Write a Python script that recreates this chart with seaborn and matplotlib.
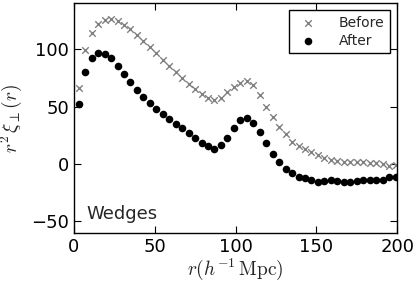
import numpy as np
import pandas as pd
import matplotlib
matplotlib.use("Agg")
import matplotlib.pyplot as plt
import seaborn as sns

# separation bins (h^-1 Mpc)
r = np.arange(3, 200, 4)

before = [65.7, 98.8, 114.2, 121.7, 125.7, 126.3, 124.3, 121.1, 117.1, 112.0,
          106.8, 101.7, 96.2, 90.8, 85.7, 80.0, 74.8, 69.7, 65.1, 60.6,
          57.4, 56.0, 57.7, 62.5, 66.8, 70.5, 72.0, 68.6, 59.7, 50.0,
          40.5, 32.6, 25.7, 19.5, 15.9, 12.8, 10.2, 7.7, 4.8, 3.4,
          2.6, 2.0, 2.0, 1.7, 1.4, 1.1, 0.6, -0.3, -1.4, -0.9]
after = [52.0, 80.0, 92.5, 97.0, 96.0, 92.0, 85.0, 78.0, 71.0, 64.5,
         58.5, 53.0, 48.0, 43.4, 39.0, 35.0, 31.0, 27.0, 22.5, 18.6,
         15.7, 13.4, 16.3, 22.5, 31.4, 38.3, 39.7, 35.7, 27.7, 18.3,
         8.6, 1.4, -4.0, -8.3, -11.1, -12.6, -14.0, -15.7, -14.6, -14.3,
         -14.6, -15.4, -15.4, -14.6, -14.3, -14.0, -14.0, -14.0, -11.7, -11.4]

df = pd.DataFrame({"r": r, "before": before, "after": after})

sns.set_style("ticks", {"xtick.direction": "in", "ytick.direction": "in",
                        "axes.edgecolor": "black"})
plt.rcParams["font.family"] = ["DejaVu Sans"]
plt.rcParams["mathtext.fontset"] = "cm"

fig = plt.figure(figsize=(4.15, 2.84), dpi=100)
ax = fig.add_axes([0.178, 0.180, 0.779, 0.809])

sns.scatterplot(data=df, x="r", y="before", marker="x", color="#808080",
                s=22, linewidth=1.0, label="Before", ax=ax)
sns.scatterplot(data=df, x="r", y="after", marker="o", color="black",
                s=30, linewidth=0, label="After", ax=ax)

ax.set_xlim(0, 200)
ax.set_ylim(-60, 140)
ax.set_xticks([0, 50, 100, 150, 200])
ax.set_yticks([-50, 0, 50, 100])
ax.tick_params(top=True, right=True, labelsize=13, length=5, width=0.8,
               colors="black")
for sp in ax.spines.values():
    sp.set_linewidth(1.0)
    sp.set_color("black")

ax.set_xlabel(r"$r(h^{-1}\,\mathrm{Mpc})$", fontsize=14, labelpad=1)
ax.set_ylabel(r"$r^2\,\xi_\perp(r)$", fontsize=14, labelpad=5)

ax.text(0.04, 0.045, "Wedges", transform=ax.transAxes, fontsize=13,
        ha="left", va="bottom")

leg = ax.legend(loc="upper right", fontsize=10, frameon=True, fancybox=False,
                borderaxespad=0.5, handletextpad=1.2, borderpad=0.4,
                labelspacing=0.3)
leg.get_frame().set_edgecolor("black")
leg.get_frame().set_linewidth(1.0)
leg.get_frame().set_alpha(1)

fig.savefig("out.png", dpi=100)
